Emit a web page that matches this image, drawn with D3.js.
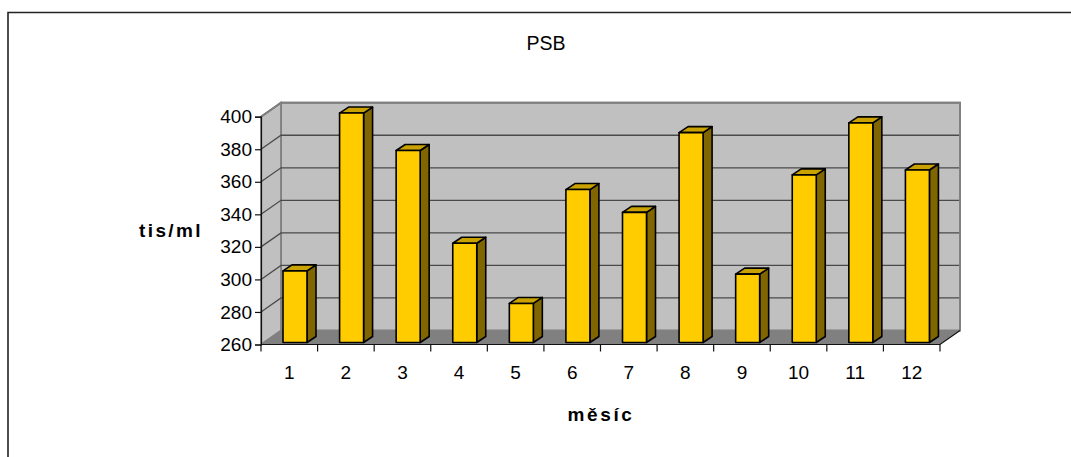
<!DOCTYPE html>
<html>
<head>
<meta charset="utf-8">
<script src="https://cdn.jsdelivr.net/npm/d3@7"></script>
<style>
  html, body { margin: 0; padding: 0; background: #fff; }
  svg { display: block; font-family: "Liberation Sans", Arial, sans-serif; }
</style>
</head>
<body>
<svg id="chart" width="1071" height="457"></svg>
<script>
// Monthly PSB counts (tis/ml)
const months = ["1", "2", "3", "4", "5", "6", "7", "8", "9", "10", "11", "12"];
const psbValues = [304, 401, 378, 321, 284, 354, 340, 389, 302, 363, 395, 366];
const yTicks = [260, 280, 300, 320, 340, 360, 380, 400];
const chartTitle = "PSB";
const yTitle = "tis/ml";
const xTitle = "měsíc";

const svg = d3.select("#chart");

// Plot box on the front plane, plus the 3D depth offset of the walls
const front = { left: 261, right: 940, top: 116.7, bottom: 344.5 };
const depth = { dx: 20, dy: -14 };

const x = d3.scaleBand().domain(months).range([front.left, front.right]).padding(0);
const y = d3.scaleLinear().domain([260, 400]).range([front.bottom, front.top]);

// Outer chart frame (left and top edges visible)
svg.append("path")
  .attr("d", "M8,470 L8,12.5 L1080,12.5")
  .attr("fill", "none").attr("stroke", "#222").attr("stroke-width", 1.6);

// Title
svg.append("text")
  .attr("x", 546).attr("y", 50)
  .attr("text-anchor", "middle")
  .attr("font-size", 19.5)
  .text(chartTitle);

const yMin = y(260), yMax = y(400);

// Back wall
svg.append("polygon")
  .attr("points", [
    [front.left + depth.dx, yMax + depth.dy],
    [front.right + depth.dx, yMax + depth.dy],
    [front.right + depth.dx, yMin + depth.dy],
    [front.left + depth.dx, yMin + depth.dy]
  ].join(" "))
  .attr("fill", "#c0c0c0").attr("stroke", "#808080").attr("stroke-width", 1.8);

// Side wall
svg.append("polygon")
  .attr("points", [
    [front.left, yMin],
    [front.left, yMax],
    [front.left + depth.dx, yMax + depth.dy],
    [front.left + depth.dx, yMin + depth.dy]
  ].join(" "))
  .attr("fill", "#c0c0c0").attr("stroke", "#808080").attr("stroke-width", 1.8);

// Floor
svg.append("polygon")
  .attr("points", [
    [front.left, yMin],
    [front.right, yMin],
    [front.right + depth.dx, yMin + depth.dy],
    [front.left + depth.dx, yMin + depth.dy]
  ].join(" "))
  .attr("fill", "#808080");

// Gridlines across side wall and back wall
const grid = svg.append("g").attr("fill", "none").attr("stroke", "#4a4a4a").attr("stroke-width", 1.3);
yTicks.filter(t => t > 260).forEach(t => {
  const yy = y(t);
  grid.append("path")
    .attr("d", `M${front.left},${yy} L${front.left + depth.dx},${yy + depth.dy} L${front.right + depth.dx},${yy + depth.dy}`);
});
// Redraw top edge of back wall in wall-edge grey
svg.append("path")
  .attr("d", `M${front.left},${yMax} L${front.left + depth.dx},${yMax + depth.dy} L${front.right + depth.dx},${yMax + depth.dy} L${front.right + depth.dx},${yMin + depth.dy}`)
  .attr("fill", "none").attr("stroke", "#808080").attr("stroke-width", 1.8);

// Floor front & right edges
svg.append("path")
  .attr("d", `M${front.left},${yMin} L${front.right},${yMin} L${front.right + depth.dx},${yMin + depth.dy}`)
  .attr("fill", "none").attr("stroke", "#111").attr("stroke-width", 1.2);

// Bars: front face sits slightly behind the front plane
const barOff = { dx: 3, dy: -2 };
const barW = 24;
const barDepth = { dx: 9, dy: -6 };
const bars = svg.append("g")
  .attr("stroke", "#000").attr("stroke-width", 1.6).attr("stroke-linejoin", "round");

months.forEach((m, i) => {
  const v = psbValues[i];
  const x0 = x(m) + 19 + barOff.dx;
  const x1 = x0 + barW;
  const yt = y(v) + barOff.dy;
  const yb = y(260) + barOff.dy;
  const g = bars.append("g");
  // side
  g.append("polygon")
    .attr("points", [[x1, yt], [x1 + barDepth.dx, yt + barDepth.dy], [x1 + barDepth.dx, yb + barDepth.dy], [x1, yb]].join(" "))
    .attr("fill", "#806600");
  // top
  g.append("polygon")
    .attr("points", [[x0, yt], [x1, yt], [x1 + barDepth.dx, yt + barDepth.dy], [x0 + barDepth.dx, yt + barDepth.dy]].join(" "))
    .attr("fill", "#c9a200");
  // front
  g.append("rect")
    .attr("x", x0).attr("y", yt)
    .attr("width", barW).attr("height", yb - yt)
    .attr("fill", "#ffcc00");
});

// Y axis
const yAxis = d3.axisLeft(y).tickValues(yTicks).tickSize(6).tickPadding(3).tickFormat(d3.format("d"));
const yAxisG = svg.append("g")
  .attr("transform", `translate(${front.left},0)`)
  .call(yAxis);
yAxisG.select(".domain").attr("stroke", "#111").attr("stroke-width", 1.2);
yAxisG.selectAll(".tick line").attr("stroke", "#111").attr("stroke-width", 1.2);
yAxisG.selectAll(".tick text")
  .attr("font-size", 19).attr("font-family", "Liberation Sans, Arial, sans-serif").attr("fill", "#000");

// X axis: labels centred in each band, ticks at band boundaries
const xAxis = d3.axisBottom(x).tickSize(0).tickPadding(0);
const xAxisG = svg.append("g")
  .attr("transform", `translate(0,${yMin})`)
  .call(xAxis);
xAxisG.select(".domain").remove();
xAxisG.selectAll(".tick text")
  .attr("y", 34).attr("dy", 0)
  .attr("font-size", 19).attr("font-family", "Liberation Sans, Arial, sans-serif").attr("fill", "#000");

const bounds = months.map(m => x(m)).concat([front.right]);
svg.append("g").selectAll("line").data(bounds).join("line")
  .attr("x1", d => d).attr("x2", d => d)
  .attr("y1", yMin).attr("y2", yMin + 7)
  .attr("stroke", "#111").attr("stroke-width", 1.2);

// Axis titles
svg.append("text")
  .attr("x", 171).attr("y", 237)
  .attr("text-anchor", "middle")
  .attr("font-size", 19).attr("font-weight", "bold")
  .attr("letter-spacing", 2.4)
  .text(yTitle);

svg.append("text")
  .attr("x", 601).attr("y", 421)
  .attr("text-anchor", "middle")
  .attr("font-size", 19).attr("font-weight", "bold")
  .attr("letter-spacing", 2.6)
  .text(xTitle);
</script>
</body>
</html>
